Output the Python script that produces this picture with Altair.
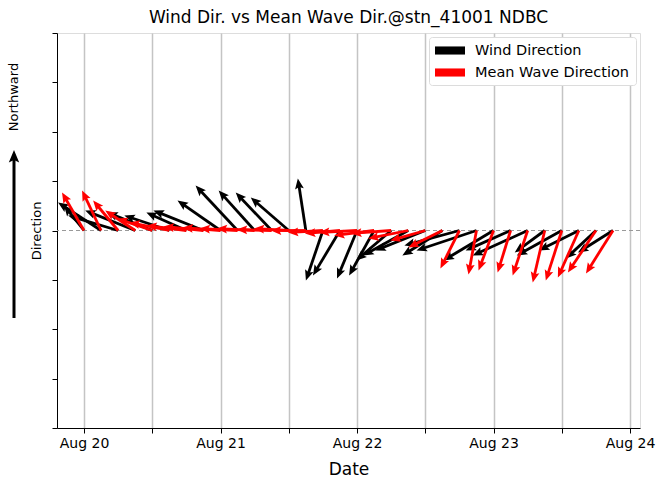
import math
import altair as alt
import pandas as pd

# ---- data (3-hourly, hours since Aug 20 00:00) ----
hours = [0, 3, 6, 9, 12, 15, 18, 21, 24, 27, 30, 33, 36, 39, 42, 45,
         48, 51, 54, 57, 60, 63, 66, 69, 72, 75, 78, 81, 84, 87, 90, 93]

wind_u = [-2.0, -4.3, -5.0, -5.0, -4.5, -4.5, -4.0, -5.0, -4.3, -4.2, -3.6, -3.6, -3.8, -0.8, -1.7, -2.7,
          -2.0, -2.5, -3.5, -4.5, -5.0, -4.0, -5.5, -6.0, -5.0, -4.5, -5.5, -3.0, -4.5, -4.0, -3.0, -3.5]
wind_v = [2.5, 2.8, 1.5, 2.0, 1.8, 1.5, 1.8, 2.0, 3.0, 4.5, 4.0, 3.8, 3.3, 5.2, -5.0, -4.5,
          -4.8, -4.5, -3.0, -2.5, -2.0, -2.5, -1.5, -2.0, -3.0, -2.0, -2.5, -2.2, -2.5, -2.0, -2.8, -2.2]

wave_u = [-2.2, -1.9, -2.5, -3.0, -3.5, -4.0, -4.0, -4.0, -3.8, -3.8, -3.8, -3.5, -3.5, -3.5, -3.5, -3.5,
          -3.8, -4.0, -4.0, -4.0, -3.5, -3.4, -1.9, -0.8, -1.5, -1.3, -1.5, -1.2, -1.6, -2.1, -2.8, -2.7]
wave_v = [3.8, 4.0, 3.0, 2.0, 1.2, 0.8, 0.5, 0.4, 0.3, 0.2, 0.2, 0.1, 0.2, 0.0, -0.2, -0.3,
          -0.2, -0.5, -0.3, -0.8, -1.0, -1.7, -3.8, -4.4, -4.0, -4.2, -4.5, -5.2, -5.0, -4.7, -4.2, -4.3]

series_names = ["Wind Direction", "Mean Wave Direction"]
series_colors = ["black", "red"]

# ---- geometry constants (screen scaling of quiver vectors) ----
W, H = 583, 395
X_DOMAIN = [-4.75, 97.75]
Y_DOMAIN = [-4, 4]
PX_PER_HOUR = W / (X_DOMAIN[1] - X_DOMAIN[0])
PX_PER_UNIT = H / (Y_DOMAIN[1] - Y_DOMAIN[0])
VEC_PX = 10.0          # one vector unit drawn as 10 px
HEAD_SIZE = 121        # custom head path, unit = sqrt(size)/2 px
HEAD_PATH = "M0,0L-0.8,1.9L0,1.55L0.8,1.9Z"   # tip at origin, pointing up
SHAFT_BACK = 1.3 * math.sqrt(HEAD_SIZE) / 2    # shaft stops inside the head

rows = []
for name, us, vs in [(series_names[0], wind_u, wind_v), (series_names[1], wave_u, wave_v)]:
    for t, u, v in zip(hours, us, vs):
        dx, dy = u * VEC_PX, v * VEC_PX
        L = math.hypot(dx, dy)
        ux, uy = dx / L, dy / L
        rows.append({
            "series": name,
            "t": t,
            "y0": 0.0,
            "t_tip": t + dx / PX_PER_HOUR,
            "y_tip": dy / PX_PER_UNIT,
            "t_end": t + (dx - ux * SHAFT_BACK) / PX_PER_HOUR,
            "y_end": (dy - uy * SHAFT_BACK) / PX_PER_UNIT,
            "ang": math.degrees(math.atan2(dx, dy)) % 360,
        })
df = pd.DataFrame(rows)

FONT = "DejaVu Sans"

x_enc = alt.X(
    "t:Q",
    scale=alt.Scale(domain=X_DOMAIN, nice=False, zero=False),
    axis=alt.Axis(
        values=list(range(0, 97, 12)),
        labelExpr="datum.value % 24 == 0 ? 'Aug ' + (20 + datum.value / 24) : ''",
        grid=True, gridColor="#c4c4c4", gridWidth=1.5,
        tickSize=5, tickColor="black", domainColor="black",
        labelFont=FONT, labelFontSize=14, labelColor="black", labelPadding=3,
        title="Date", titleFont=FONT, titleFontSize=17, titleFontWeight="normal",
        titleColor="black", titlePadding=11,
    ),
)
y_enc = alt.Y(
    "y0:Q",
    scale=alt.Scale(domain=Y_DOMAIN, nice=False, zero=False),
    axis=alt.Axis(
        values=list(range(-4, 5)), labels=False, grid=False,
        tickSize=5, tickColor="black", domainColor="black",
        title="Direction", titleFont=FONT, titleFontSize=13, titleFontWeight="normal",
        titleColor="black", titlePadding=8,
    ),
)

color_scale = alt.Scale(domain=series_names, range=series_colors)

zero_line = alt.Chart(pd.DataFrame({"z": [0]})).mark_rule(
    color="#999999", strokeDash=[4, 3], strokeWidth=1
).encode(y=alt.datum(0))

layers = [zero_line]
for name, col in zip(series_names, series_colors):
    base = alt.Chart(df).transform_filter(alt.datum.series == name)
    shafts = base.mark_rule(strokeWidth=2.8, strokeCap="butt", color=col).encode(
        x=x_enc, y=y_enc,
        x2="t_end:Q", y2="y_end:Q",
    )
    heads = base.mark_point(shape=HEAD_PATH, filled=True, opacity=1, size=HEAD_SIZE,
                            strokeWidth=0).encode(
        x="t_tip:Q", y="y_tip:Q",
        angle=alt.Angle("ang:Q", scale=None),
        color=alt.Color(
            "series:N", scale=color_scale,
            legend=alt.Legend(
                title=None, orient="top-right", offset=4,
                fillColor="white", strokeColor="#dcdcdc", cornerRadius=3, padding=6,
                labelFont=FONT, labelFontSize=14.5, labelColor="black",
                symbolType="M-1,-0.54H3V0.54H-1Z", symbolSize=225, symbolStrokeWidth=0,
                symbolOpacity=1, rowPadding=7, labelOffset=25,
            ),
        ),
    )
    layers += [shafts, heads]

# annotation on the left: "Northward" and upward arrow
north_lbl = alt.Chart(pd.DataFrame({"label": ["Northward"]})).mark_text(
    angle=270, font=FONT, fontSize=13, color="black", align="center", baseline="middle"
).encode(text="label:N", x=alt.value(-43), y=alt.value(64))
north_shaft = alt.Chart(pd.DataFrame({"a": [0]})).mark_rule(
    color="black", strokeWidth=3, strokeCap="butt"
).encode(x=alt.value(-43), y=alt.value(285), y2=alt.value(126))
north_head = alt.Chart(pd.DataFrame({"a": [0]})).mark_point(
    shape=HEAD_PATH, filled=True, opacity=1, color="black", size=170, strokeWidth=0
).encode(x=alt.value(-43), y=alt.value(117))

chart = alt.layer(*layers, north_shaft, north_head, north_lbl).properties(
    width=W, height=H,
    title=alt.Title("Wind Dir. vs Mean Wave Dir.@stn_41001 NDBC", font=FONT, fontSize=17,
                    fontWeight="normal", color="black", offset=6),
    autosize=alt.AutoSizeParams(type="none"),
    padding={"left": 57, "top": 33, "right": 18, "bottom": 56},
).configure_view(stroke="black", strokeWidth=1.2).configure(background="white")

chart.save("out.html", embed_options={"renderer": "svg", "actions": False})
